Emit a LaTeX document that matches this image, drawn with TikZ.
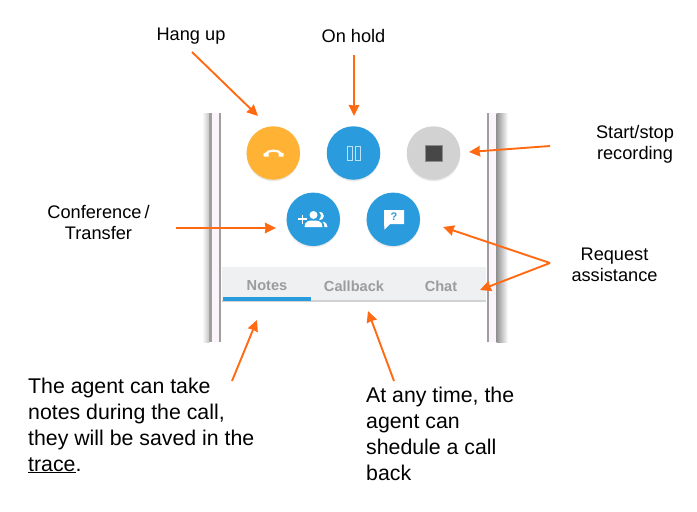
\documentclass[tikz,border=0pt]{standalone}
\usepackage{fontspec}
\setmainfont{Liberation Sans}
\usetikzlibrary{arrows.meta,shadows}
\definecolor{calloutorange}{HTML}{FF6A13}
\definecolor{btnblue}{HTML}{2A9BDC}
\definecolor{btnamber}{HTML}{FFB234}
\definecolor{btngray}{HTML}{D2D2D2}
\definecolor{tabbg}{HTML}{EFF0F2}
\definecolor{tabtext}{HTML}{9C9C9C}
\definecolor{framepink}{HTML}{FBF5FB}
\tikzset{
	x=1pt,y=-1pt,
	callout/.style={draw=calloutorange,line width=1.9pt,-{Stealth[length=11pt,width=10.5pt,inset=0.5pt]}},
	roundbtn/.style={circle,minimum size=53.5pt,inner sep=0pt,text=white,drop shadow={opacity=.18,shadow xshift=0pt,shadow yshift=-1.5pt}},
	caption/.style={font=\fontsize{18.2}{21.5}\selectfont,align=center,inner sep=0pt},
	notetext/.style={font=\fontsize{21.3}{25.8}\selectfont,align=left,inner sep=0pt,anchor=north west},
	tablabel/.style={font=\fontsize{14.6}{16}\selectfont\bfseries,text=tabtext,inner sep=0pt}
}
\begin{document}
\begin{tikzpicture}
	\useasboundingbox (0,0) rectangle (697,512);
	%phone frame
	\shade[left color=white,right color=gray!45] (202,113) rectangle (209,342); %left shadow
	\fill[gray!75] (209,113) rectangle (212,342); %left edge
	\fill[framepink] (212,113) rectangle (219,342);
	\fill[gray!75] (219,113) rectangle (221,342);
	\fill[gray!75] (486.5,113) rectangle (488.5,342); %right edge
	\fill[framepink] (488.5,113) rectangle (496.5,342);
	\shade[left color=gray!85,right color=white] (496.5,113) rectangle (508,342);
	%tab bar
	\fill[tabbg] (222,267) rectangle (486,300);
	\fill[gray!35] (222,300) rectangle (486,302);
	\fill[btnblue] (223,296.7) rectangle (311,300.7);
	\node[tablabel] (notes) at (267,286) {Notes};
	\node[tablabel] (callback) at (354,286) {Callback};
	\node[tablabel] (chat) at (441,286) {Chat};
	%buttons
	\node[roundbtn,fill=btnamber] (hangbtn) at (273.3,153) {};
	\node[roundbtn,fill=btnblue] (holdbtn) at (353.5,153) {};
	\node[roundbtn,fill=btngray] (recbtn) at (433.5,153) {};
	\node[roundbtn,fill=btnblue] (confbtn) at (313.3,219.3) {};
	\node[roundbtn,fill=btnblue] (helpbtn) at (393.3,219.3) {};
	%button icons
	\draw[white,line width=2.2pt] (265.5,154) .. controls (268,149.5) and (279,149.5) .. (281.5,154); %handset
	\fill[white] (263.5,153) rectangle (268.5,156.5) (278.5,153) rectangle (283.5,156.5);
	\draw[white!70!btnblue,line width=1pt] (347.5,146.5) rectangle (352.5,160.5) (355,146.5) rectangle (360,160.5); %pause
	\fill[black!72,draw=black!45] (425.5,145.3) rectangle (441.7,161); %stop
	\fill[white] (313.5,215) circle (4pt); %people
	\fill[white] (304.5,227) .. controls (304.5,221) and (309,220.5) .. (313.5,220.5) .. controls (318,220.5) and (322.5,221) .. (322.5,227) -- cycle;
	\fill[white] (319,211.7) .. controls (325.5,212) and (325.5,220) .. (319,220) .. controls (321.5,217) and (321.5,214.5) .. (319,211.7) -- cycle;
	\fill[white] (322.5,221.5) .. controls (326,222.5) and (327.5,224) .. (327.5,227) -- (324.5,227) .. controls (324.5,225) and (324,223) .. (322.5,221.5) -- cycle;
	\draw[white,line width=1.8pt] (298,219) -- (307,219) (302.5,214.5) -- (302.5,223.5); %plus
	\fill[white] (384,210) rectangle (404,224) (384,223) -- (384.5,229.5) -- (391,223) -- cycle; %speech box
	\node[inner sep=0pt,text=btnblue,font=\fontsize{11}{11}\selectfont\bfseries] (helpmark) at (394,217) {?};
	%labels
	\node[caption] (hanglabel) at (191,36.5) {Hang up};
	\node[caption] (holdlabel) at (353.5,35.5) {On hold};
	\node[caption] (reclabel) at (635,144.5) {Start/stop\\recording};
	\node[caption] (conflabel) at (98.5,222.5) {Conference\,/\\Transfer};
	\node[caption] (helplabel) at (614.5,265) {Request\\assistance};
	\node[notetext] (notesnote) at (28,378) {The agent can take\\notes during the call,\\they will be saved in the\\\underline{trace}.};
	\node[notetext] (callnote) at (366,387) {At any time, the\\agent can\\shedule a call\\back};
	%arrows
	\coordinate (hangtail) at (192,52);
	\coordinate (hangtip) at (258,116);
	\coordinate (holdtail) at (354,55);
	\coordinate (holdtip) at (354,116);
	\coordinate (rectail) at (550,146);
	\coordinate (rectip) at (469,152);
	\coordinate (conftail) at (176,228);
	\coordinate (conftip) at (276,228);
	\coordinate (helptail) at (550,263);
	\coordinate (helptip) at (443,227);
	\coordinate (chattip) at (480,290);
	\coordinate (notestail) at (232,381);
	\coordinate (notestip) at (257,320);
	\coordinate (calltail) at (394,381);
	\coordinate (calltip) at (368,311);
	\draw[callout] (hangtail) -- (hangtip);
	\draw[callout] (holdtail) -- (holdtip);
	\draw[callout] (rectail) -- (rectip);
	\draw[callout] (conftail) -- (conftip);
	\draw[callout] (helptail) -- (helptip);
	\draw[callout] (helptail) -- (chattip);
	\draw[callout] (notestail) -- (notestip);
	\draw[callout] (calltail) -- (calltip);
\end{tikzpicture}
\end{document}
